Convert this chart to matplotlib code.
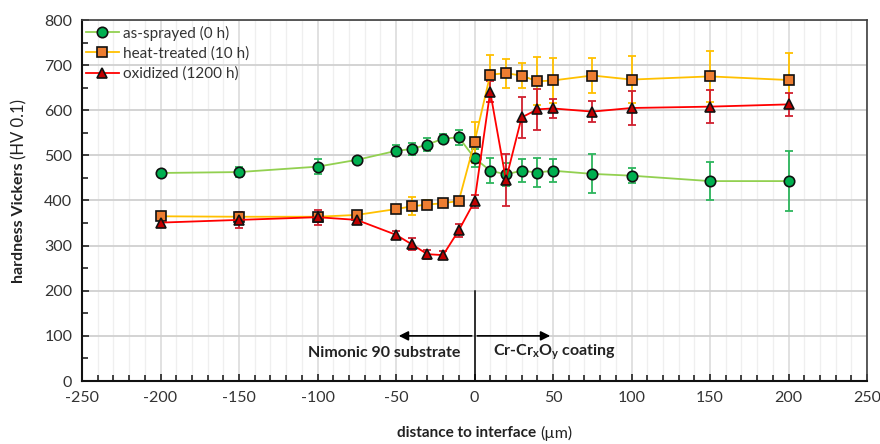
import numpy as np
import matplotlib.pyplot as plt
from matplotlib.ticker import MultipleLocator

plt.rcParams['font.family'] = ['Lato', 'DejaVu Sans']
plt.rcParams['mathtext.fontset'] = 'custom'
plt.rcParams['mathtext.rm'] = 'Lato:bold'
plt.rcParams['axes.unicode_minus'] = False

# distance to interface (um)
x = [-200, -150, -100, -75, -50, -40, -30, -20, -10, 0, 10, 20, 30, 40, 50, 75, 100, 150, 200]

# as-sprayed (0 h)
hv_sprayed = [461, 463, 475, 490, 510, 514, 524, 537, 540, 494, 466, 458, 466, 462, 466, 459, 455, 443, 443]
err_sprayed = [6, 12, 17, 5, 12, 14, 15, 10, 17, 20, 28, 25, 25, 33, 25, 43, 16, 42, 67]

# heat-treated (10 h)
hv_heat = [365, 364, 364, 368, 381, 387, 391, 394, 399, 529, 679, 682, 677, 664, 666, 677, 668, 675, 667]
err_heat = [6, 6, 6, 6, 6, 20, 10, 8, 6, 45, 43, 32, 28, 53, 50, 39, 53, 57, 59]

# oxidized (1200 h)
hv_ox = [351, 357, 363, 357, 324, 303, 281, 279, 334, 398, 641, 446, 584, 602, 604, 597, 605, 608, 613]
err_ox = [8, 17, 17, 8, 8, 13, 10, 8, 15, 15, 23, 58, 45, 45, 22, 24, 38, 37, 25]

series = [
    ('as-sprayed (0 h)', hv_sprayed, err_sprayed, '#92D050', '#2DB55D', '#00B050', 'o', 7.5),
    ('heat-treated (10 h)', hv_heat, err_heat, '#FFC000', '#FFC000', '#ED7D31', 's', 7.5),
    ('oxidized (1200 h)', hv_ox, err_ox, '#FF0000', '#D0202F', '#C00000', '^', 7.5),
]

fig = plt.figure(figsize=(8.8, 4.44), dpi=100)
ax = fig.add_axes([82/880, 1 - 381/444, 785/880, 361/444])

for label, y, e, lc, ec, mc, m, ms in series:
    ax.errorbar(x, y, yerr=e, fmt='none', ecolor=ec, elinewidth=1.3, capsize=3, capthick=1.3, zorder=3)
    ax.plot(x, y, color=lc, lw=1.3, marker=m, ms=ms, mfc=mc, mec='#111111', mew=1.2,
            label=label, zorder=4)

ax.set_xlim(-250, 250)
ax.set_ylim(0, 800)
ax.xaxis.set_major_locator(MultipleLocator(50))
ax.xaxis.set_minor_locator(MultipleLocator(10))
ax.yaxis.set_major_locator(MultipleLocator(100))
ax.yaxis.set_minor_locator(MultipleLocator(50))

ax.grid(which='major', axis='x', color='#d9d9d9', lw=1.1, zorder=0)
ax.grid(which='minor', axis='x', color='#efefef', lw=0.9, zorder=0)
ax.grid(which='major', axis='y', color='#d0d0d0', lw=1.3, zorder=0)
ax.set_axisbelow(True)

ax.tick_params(which='both', direction='in', colors='#111111', labelcolor='#333333', labelsize=11.5)
ax.tick_params(which='major', length=5, width=1.1, pad=7)
ax.tick_params(which='minor', length=4, width=1.1)

for s in ['left', 'bottom']:
    ax.spines[s].set_linewidth(1.5)
    ax.spines[s].set_color('#111111')
for s in ['top', 'right']:
    ax.spines[s].set_linewidth(1.2)
    ax.spines[s].set_color('#404040')

# interface marker and region arrows
ax.plot([0, 0], [0, 200], color='black', lw=1.1, zorder=2)
ax.annotate('', xy=(-50, 100), xytext=(0, 100),
            arrowprops=dict(arrowstyle='-|>', color='black', lw=1.2, mutation_scale=14))
ax.annotate('', xy=(50, 100), xytext=(0, 100),
            arrowprops=dict(arrowstyle='-|>', color='black', lw=1.2, mutation_scale=14))
ax.text(-9, 63, 'Nimonic 90 substrate', ha='right', va='center', fontsize=11.5,
        fontweight='bold', color='#222222')
ax.text(12, 63, r'Cr-Cr$_\mathrm{x}$O$_\mathrm{y}$ coating', ha='left', va='center',
        fontsize=11.5, fontweight='bold', color='#222222')

leg = ax.legend(loc='upper left', bbox_to_anchor=(-0.008, 1.012), frameon=False, fontsize=11,
                handlelength=2.2, labelspacing=0.38, borderaxespad=0.25, handletextpad=0.25)
for t in leg.get_texts():
    t.set_color('#333333')

# axis labels: bold text followed by normal unit
xl = fig.text(540/880, 1 - 433/444, 'distance to interface ', ha='right', va='center',
              fontsize=11, fontweight='bold', color='#222222')
ax.annotate('(\u00b5m)', xy=(1, 0.5), xycoords=xl, va='center', ha='left',
            fontsize=11.5, color='#222222')
yl = fig.text(19/880, 1 - 283/444, 'hardness Vickers ', ha='center', va='bottom',
              rotation=90, fontsize=11.5, fontweight='bold', color='#222222')
ax.annotate('(HV 0.1)', xy=(0.5, 1), xycoords=yl, va='bottom', ha='center', rotation=90,
            fontsize=12, color='#222222')

fig.savefig('out.png', dpi=100)
